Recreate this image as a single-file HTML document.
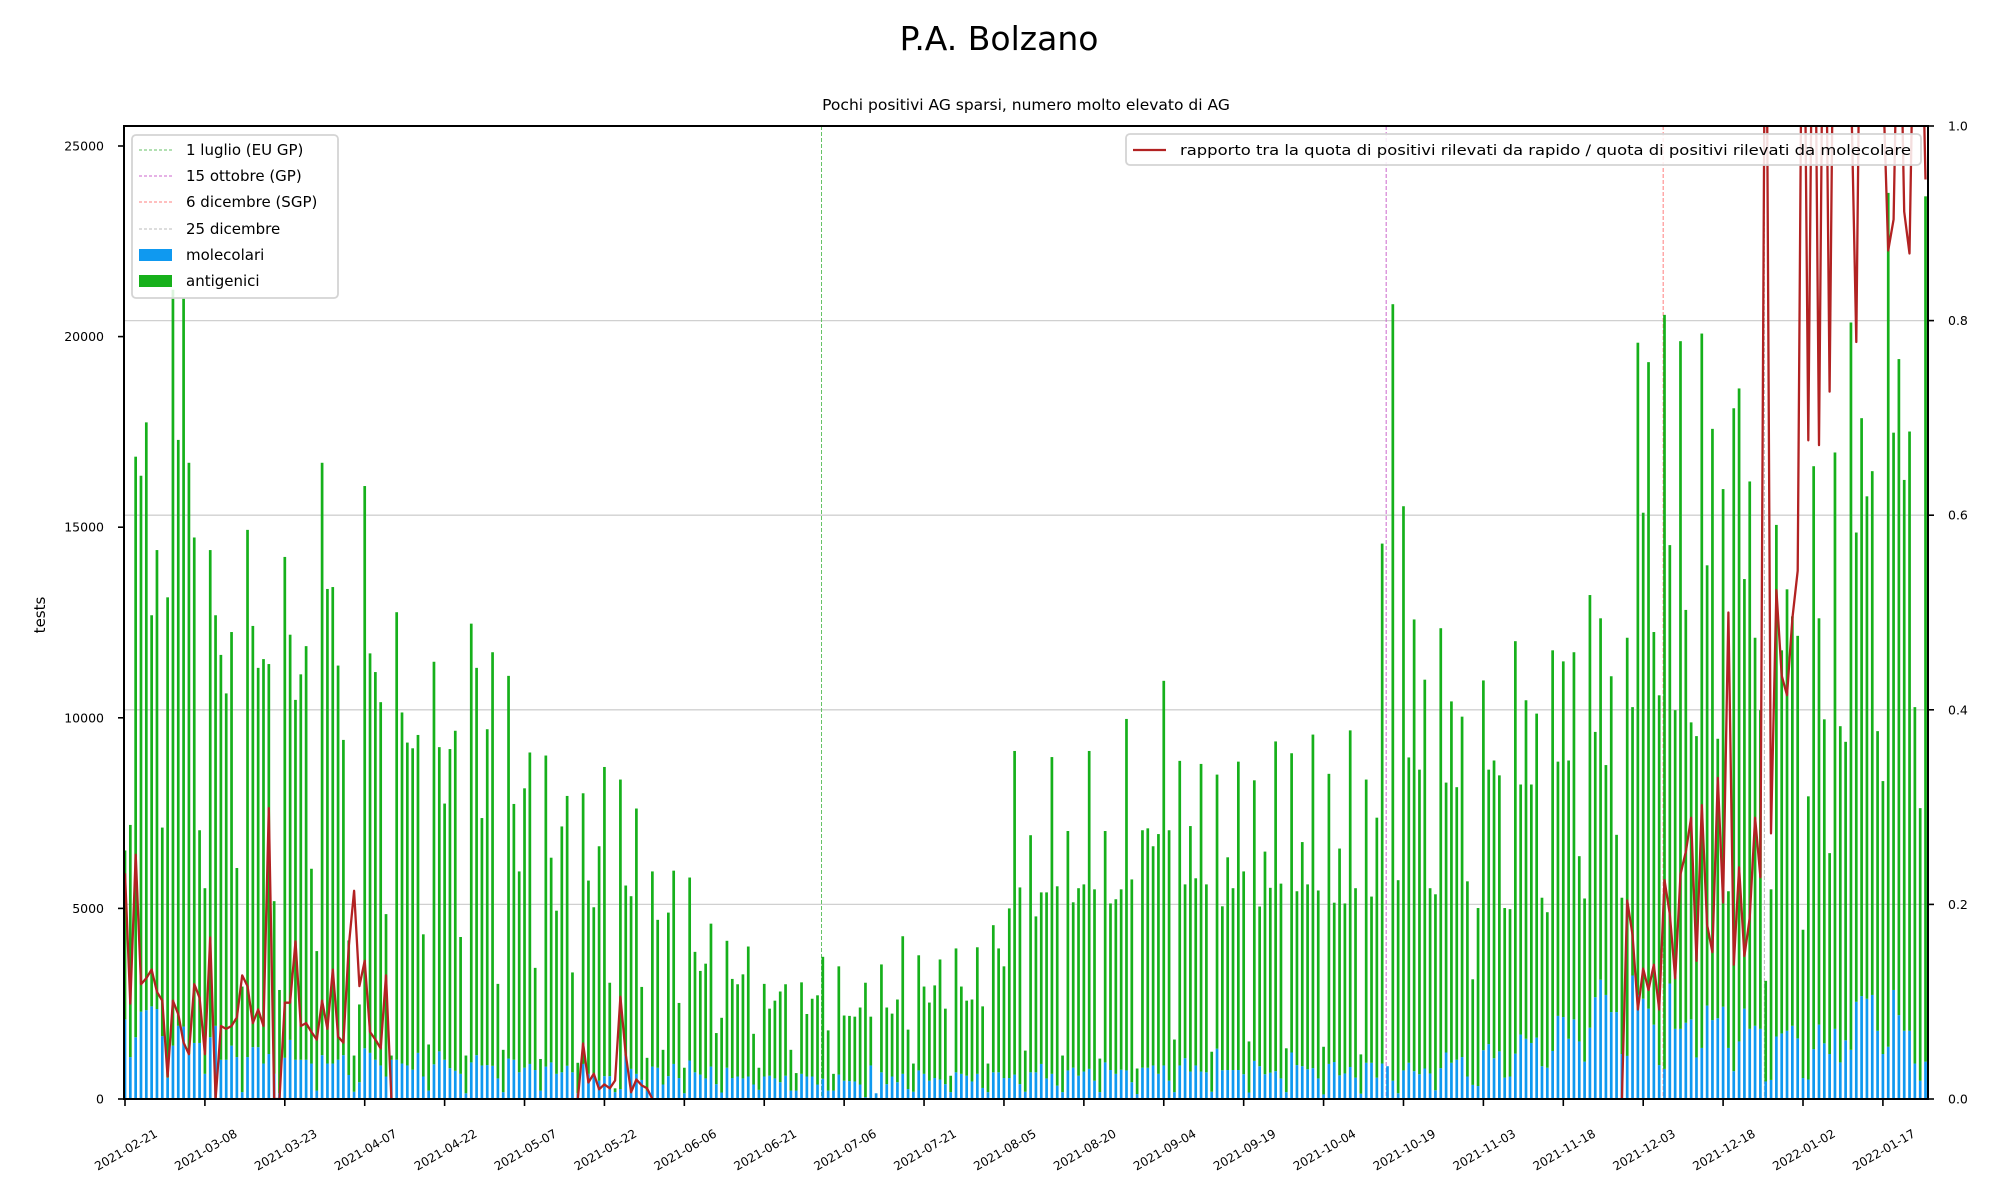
<!DOCTYPE html>
<html><head><meta charset="utf-8"><title>P.A. Bolzano</title>
<style>
html,body{margin:0;padding:0;background:#fff;}
svg{display:block;font-family:"DejaVu Sans","Liberation Sans",sans-serif;}
</style></head>
<body>
<svg id="chart" width="2000" height="1200" viewBox="0 0 2000 1200" xmlns="http://www.w3.org/2000/svg">
<defs><clipPath id="plotclip"><rect x="124" y="126" width="1804" height="973"/></clipPath></defs>
<text x="999" y="50" font-size="33" text-anchor="middle" fill="#000">P.A. Bolzano</text>
<text x="1026" y="110" font-size="15.5" text-anchor="middle" fill="#000">Pochi positivi AG sparsi, numero molto elevato di AG</text>
<text x="0" y="0" font-size="15" text-anchor="middle" transform="translate(45,615) rotate(-90)">tests</text>
<g id="grid"></g>
<g id="vlines" clip-path="url(#plotclip)"></g>
<g id="bars" clip-path="url(#plotclip)"></g>
<g id="ratio" clip-path="url(#plotclip)"></g>
<g id="axes"></g>
<g>
  <rect x="132" y="135" width="206" height="163" rx="4" fill="#fff" fill-opacity="0.85" stroke="#d4d4d4" stroke-width="1.8"/>
  <g><line x1="139" y1="150" x2="172" y2="150" stroke="#66c266" stroke-width="1" stroke-dasharray="3,2"/><text x="186" y="155" font-size="15">1 luglio (EU GP)</text></g>
  <g><line x1="139" y1="176" x2="172" y2="176" stroke="#cc66cc" stroke-width="1" stroke-dasharray="3,2"/><text x="186" y="181" font-size="15">15 ottobre (GP)</text></g>
  <g><line x1="139" y1="202" x2="172" y2="202" stroke="#ff7f7f" stroke-width="1" stroke-dasharray="3,2"/><text x="186" y="207" font-size="15">6 dicembre (SGP)</text></g>
  <g><line x1="139" y1="229" x2="172" y2="229" stroke="#bbbbbb" stroke-width="1" stroke-dasharray="3,2"/><text x="186" y="234" font-size="15">25 dicembre</text></g>
  <g><rect x="139" y="249" width="33" height="12" fill="#0f99f0"/><text x="186" y="260" font-size="15">molecolari</text></g>
  <g><rect x="139" y="275" width="33" height="12" fill="#16b01b"/><text x="186" y="286" font-size="15">antigenici</text></g>
</g>
<g>
  <rect x="1126" y="134" width="795" height="31" rx="4" fill="#fff" fill-opacity="0.85" stroke="#d4d4d4" stroke-width="1.8"/>
  <line x1="1133" y1="150" x2="1166" y2="150" stroke="#b22222" stroke-width="2.2"/>
  <text x="1180" y="155" font-size="14.5" textLength="731" lengthAdjust="spacingAndGlyphs">rapporto tra la quota di positivi rilevati da rapido / quota di positivi rilevati da molecolare</text>
</g>
</svg>
<script>
// ---- data ----
const startDate = [2021, 1, 21];
const molecolari = [2090,1100,1620,2290,2330,2430,2360,1650,560,1400,1920,1900,1180,1470,1470,660,1620,1920,1030,1030,1400,1100,180,1100,1360,1360,930,1180,660,150,1080,1550,1030,1030,1030,930,220,1150,930,930,1030,1150,630,190,440,1330,1210,1030,880,590,1030,1030,930,880,770,1210,590,220,910,1250,1030,810,740,660,150,960,1150,880,890,870,540,180,1060,1030,700,820,920,760,220,850,960,660,700,870,700,150,920,660,660,480,600,600,180,260,1140,790,660,500,220,850,820,380,600,920,550,150,1010,700,640,540,850,390,170,820,550,590,540,590,380,240,590,610,540,440,610,220,220,660,590,590,380,530,220,220,640,480,470,460,380,50,880,150,700,390,590,440,660,260,190,750,660,480,550,510,390,180,700,660,610,460,660,290,180,700,700,550,550,640,390,190,700,700,920,540,660,350,180,750,820,610,720,790,480,180,960,760,660,770,750,440,130,820,820,880,660,880,480,180,880,1070,720,880,720,700,190,1320,755,760,760,760,650,170,1000,860,650,690,730,540,180,1220,890,860,780,810,540,120,920,970,620,670,840,560,140,950,950,560,930,860,480,150,750,950,730,650,800,670,230,810,1220,950,1030,1100,590,370,340,1280,1440,1070,1250,560,590,1190,1690,1580,1470,1610,860,820,1260,2180,2150,1580,2090,1510,980,1870,2670,3130,2730,2280,2280,1180,1130,3240,2730,2630,2370,1950,890,790,3030,1840,1840,2000,2090,1090,1340,2450,2070,2120,2420,1340,730,1510,2370,1840,1920,1840,460,500,1640,1720,1790,1920,1590,550,510,1310,1950,1460,1180,1840,960,1540,1290,2550,2700,2630,2730,1790,1180,1370,2860,2200,1790,1790,930,480,980];
const antigenici = [4430,6090,15230,14060,15420,10260,12040,5470,12600,19830,15370,19100,15510,13260,5580,4870,12780,10770,10620,9610,10850,4960,2770,13830,11050,9950,10610,10230,4530,2710,13140,10630,9440,10110,10850,5110,3660,15540,12450,12500,10340,8270,3530,950,2040,14750,10480,10170,9530,4260,110,11740,9210,8470,8430,8340,3730,1210,10560,7980,6720,8370,8920,3590,990,11510,10160,6490,8810,10850,2480,1110,10040,6710,5270,7330,8170,2680,830,8160,5370,4280,6450,7080,2620,800,7100,5070,4370,6150,8110,2450,100,8120,4460,4530,6960,2440,860,5120,3880,910,4290,5070,1970,670,4800,3160,2720,3010,3750,1340,1960,3330,2600,2420,2730,3410,1330,580,2430,1760,2040,2380,2400,1070,460,2400,1640,2040,2340,3200,1580,440,2840,1710,1710,1700,2020,3000,1280,0,2830,2010,1650,2170,3610,1560,740,3020,2290,2050,2430,3150,1980,430,3250,2290,1970,2150,3320,2140,750,3860,3250,2930,4450,8490,5160,1080,6220,4090,4500,4880,8310,5230,960,6280,4340,4920,4910,8340,5020,880,6070,4370,4580,4730,9220,5320,670,6230,6280,5750,6290,10090,6570,1380,7990,4560,6440,4910,8070,4930,1050,7190,4300,5580,4770,8090,5320,1340,7360,4190,5840,4850,8650,5110,1150,7850,4560,5880,4850,8750,4930,1250,7610,4180,5950,4460,8830,4970,1030,7430,4360,6820,13640,0,20370,5590,14800,8010,11850,7990,10200,4860,5140,11540,7080,9480,7150,8930,5120,2770,4670,9700,7200,7810,7240,4450,4390,10820,6560,8880,6780,8500,4420,4080,10510,6670,9330,7300,9630,4860,4280,11350,6960,9480,6030,8810,4650,4100,10970,7040,17110,12750,16960,10300,9700,19780,11500,8360,18040,10830,7790,8430,18740,11550,15510,7330,13580,4110,17390,17130,11270,14360,10180,8360,2640,5000,13420,10050,11580,10740,10560,3890,7430,15290,10660,8500,5270,15120,8820,7830,19080,12310,15160,13180,13740,7860,7160,22400,14620,17210,14450,15720,9350,7150,22700];
// ratio series: three observed segments (start day index + values)
const ratioStart1 = 0;
const ratio1 = [0.232,0.098,0.251,0.118,0.124,0.133,0.110,0.101,0.023,0.101,0.087,0.058,0.046,0.118,0.104,0.046,0.166,0,0.075,0.072,0.075,0.084,0.127,0.116,0.078,0.092,0.075,0.299,0,0,0.099,0.099,0.162,0.075,0.078,0.069,0.061,0.101,0.072,0.133,0.064,0.058,0.156,0.214,0.116,0.142,0.069,0.061,0.052,0.127,0];
const ratioStart2 = 85;
const ratio2 = [0,0.057,0.017,0.026,0.010,0.015,0.011,0.019,0.105,0.046,0.007,0.020,0.014,0.011,0];
const ratioStart3 = 281;
const ratio3 = [0,0.204,0.169,0.092,0.134,0.112,0.138,0.092,0.225,0.190,0.124,0.231,0.254,0.289,0.142,0.302,0.179,0.151,0.330,0.202,0.500,0.138,0.238,0.147,0.186,0.289,0.228,1.3,0.273,0.523,0.435,0.415,0.494,0.543,1.3,0.677,1.3,0.672,1.3,0.727,1.3,1.2,1.2,1.05,0.778,1.3,1.2,1.2,1.2,1.05,0.872,0.904,1.2,0.912,0.869,1.2,1.2,0.945];
const eventDays = [130, 236, 288, 307];
const eventColors = ["#66c266", "#cc66cc", "#ff7f7f", "#bbbbbb"];
const xTickDays = [0,15,30,45,60,75,90,105,120,135,150,165,180,195,210,225,240,255,270,285,300,315,330];
const xTickLabels = ["2021-02-21","2021-03-08","2021-03-23","2021-04-07","2021-04-22","2021-05-07","2021-05-22","2021-06-06","2021-06-21","2021-07-06","2021-07-21","2021-08-05","2021-08-20","2021-09-04","2021-09-19","2021-10-04","2021-10-19","2021-11-03","2021-11-18","2021-12-03","2021-12-18","2022-01-02","2022-01-17"];
const yTicks = [0,5000,10000,15000,20000,25000];
const y2Ticks = [0,0.2,0.4,0.6,0.8,1.0];
const y2TickLabels = ["0.0","0.2","0.4","0.6","0.8","1.0"];

// ---- axes functions ----
const NS = "http://www.w3.org/2000/svg";
const L = 124, R = 1928, T = 126, B = 1099;
function x(d){ return 125 + 5.327 * d; }
function y(v){ return B - v * (953 / 25000); }
function y2(r){ return B - r * (B - T); }
function mk(tag, attrs, parent){ const e = document.createElementNS(NS, tag); for (const k in attrs) e.setAttribute(k, attrs[k]); parent.appendChild(e); return e; }

const grid = document.getElementById('grid');
y2Ticks.forEach(function(t){
  if (t === 0 || t === 1) return;
  const g = mk('line', {x1:L, x2:R, y1:y2(t), y2:y2(t), stroke:'#d0d0d0', 'stroke-width':1.3}, grid);
  
  
});

const vl = document.getElementById('vlines');
eventDays.forEach(function(d, i){
  const l = mk('line', {x1:x(d+0.75), x2:x(d+0.75), y1:T, y2:B, stroke:eventColors[i], 'stroke-width':1, 'stroke-dasharray':'4,2'}, vl);
  
  
});

const bars = document.getElementById('bars');
const bw = 2.7;
for (let i = 0; i < molecolari.length; i++){
  const m = molecolari[i], a = antigenici[i];
  const bm = mk('rect', {x:x(i)-bw/2, y:y(m), width:bw, height:B-y(m), fill:'#0f99f0'}, bars);
  
  
  const ba = mk('rect', {x:x(i)-bw/2, y:y(m+a), width:bw, height:y(m)-y(m+a), fill:'#16b01b'}, bars);
  
  
}

const rg = document.getElementById('ratio');
[[ratioStart1, ratio1],[ratioStart2, ratio2],[ratioStart3, ratio3]].forEach(function(seg){
  const pts = seg[1].map(function(r, j){ return x(seg[0] + j).toFixed(1) + ',' + y2(r).toFixed(1); }).join(' ');
  const p = mk('polyline', {points:pts, fill:'none', stroke:'#b22222', 'stroke-width':2.3, 'stroke-linejoin':'round'}, rg);
  
  
});

const ax = document.getElementById('axes');
const frame = mk('rect', {x:L, y:T, width:R-L, height:B-T, fill:'none', stroke:'#000', 'stroke-width':2}, ax);


yTicks.forEach(function(t){
  const yy = y(t);
  const tk = mk('line', {x1:L-6, x2:L, y1:yy, y2:yy, stroke:'#000', 'stroke-width':1.6}, ax);
  
  
  const tl = mk('text', {x:L-20, y:yy+4.5, 'font-size':12.5, 'text-anchor':'end'}, ax);
  tl.textContent = String(t);
  
  
});
y2Ticks.forEach(function(t, i){
  const yy = y2(t);
  const tk = mk('line', {x1:R, x2:R+6, y1:yy, y2:yy, stroke:'#000', 'stroke-width':1.6}, ax);
  
  
  const tl = mk('text', {x:R+20, y:yy+4.5, 'font-size':12.5, 'text-anchor':'start'}, ax);
  tl.textContent = y2TickLabels[i];
  
  
});
xTickDays.forEach(function(d, i){
  const xx = x(d);
  const tk = mk('line', {x1:xx, x2:xx, y1:B, y2:B+7, stroke:'#000', 'stroke-width':1.6}, ax);
  
  
  const tl = mk('text', {x:0, y:4, 'font-size':12, 'text-anchor':'middle', transform:'translate(' + (xx+1) + ',1150) rotate(-30)'}, ax);
  tl.textContent = xTickLabels[i];
  
  
});
</script>
</body></html>
